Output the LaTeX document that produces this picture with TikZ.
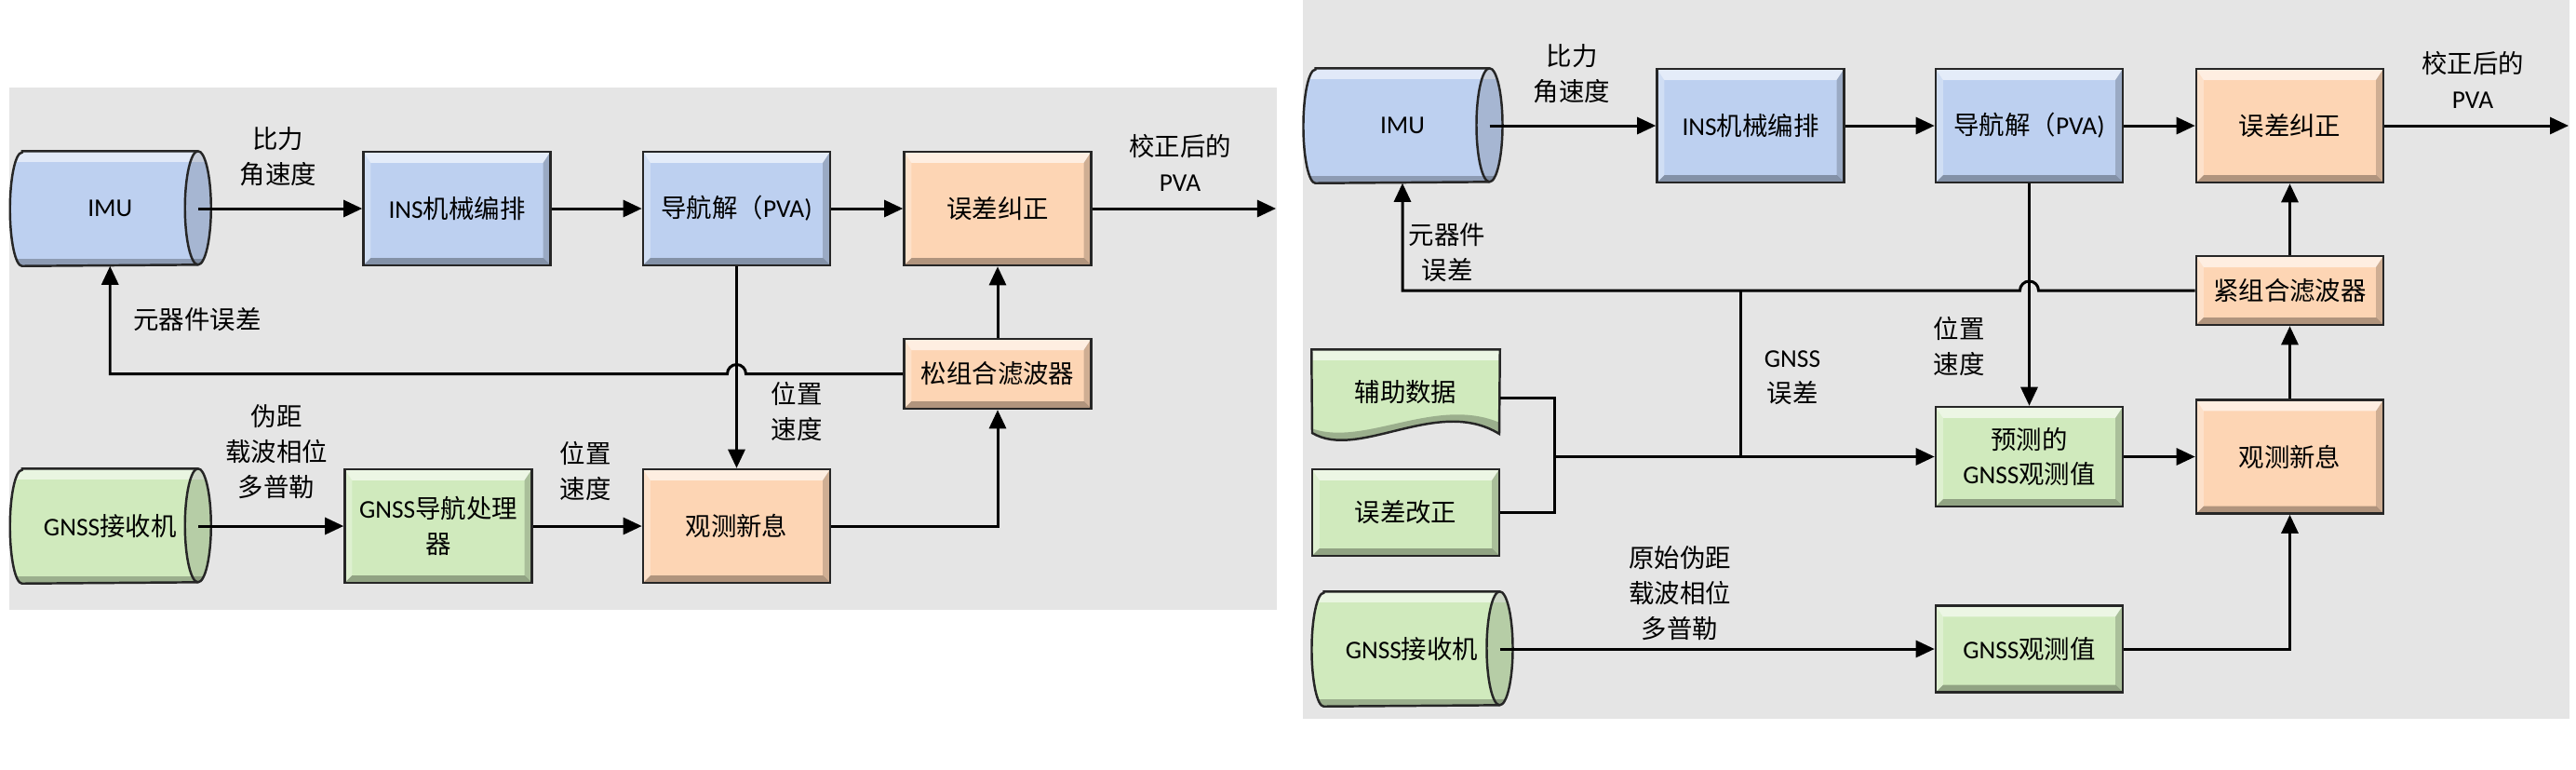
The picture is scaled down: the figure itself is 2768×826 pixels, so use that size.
\documentclass[tikz,border=0pt]{standalone}
\usepackage{fontspec}
\setmainfont{Noto Sans CJK SC}
\newfontfamily\enfont{Carlito}
\usetikzlibrary{arrows.meta,calc}
\definecolor{panelgray}{HTML}{E5E5E5}
\definecolor{insblue}{HTML}{BDD0F0}
\definecolor{gnssgreen}{HTML}{D0EABD}
\definecolor{kfpeach}{HTML}{FDD5B4}
\definecolor{edgegray}{HTML}{262626}
\pgfdeclarelayer{panel}
\pgfdeclarelayer{shapes}
\pgfsetlayers{panel,shapes,main}

\newcommand{\bevelfaces}{%
  \path (path picture bounding box.north west) coordinate (pnw)
        (path picture bounding box.north east) coordinate (pne)
        (path picture bounding box.south west) coordinate (psw)
        (path picture bounding box.south east) coordinate (pse);
  \fill[white,opacity=.6] (pnw) -- (pne) -- ([shift={(-.08cm,-.12cm)}]pne) -- ([shift={(.08cm,-.12cm)}]pnw) -- cycle;
  \fill[white,opacity=.3] (pnw) -- ([shift={(.08cm,-.12cm)}]pnw) -- ([shift={(.08cm,.08cm)}]psw) -- (psw) -- cycle;
  \fill[black,opacity=.3] (psw) -- ([shift={(.08cm,.08cm)}]psw) -- ([shift={(-.08cm,.08cm)}]pse) -- (pse) -- cycle;
  \fill[black,opacity=.18] (pse) -- ([shift={(-.08cm,.08cm)}]pse) -- ([shift={(-.08cm,-.12cm)}]pne) -- (pne) -- cycle;
}
\newcommand{\drawdrum}[2]{%
  \fill[#2] (#1.north west) -- (#1.north east) arc[start angle=90,end angle=-90,x radius=.14cm,y radius=.61cm] -- (#1.south west) arc[start angle=270,end angle=90,x radius=.13cm,y radius=.61cm] -- cycle;
  \begin{scope}
    \clip (#1.north west) -- (#1.north east) arc[start angle=90,end angle=-90,x radius=.14cm,y radius=.61cm] -- (#1.south west) arc[start angle=270,end angle=90,x radius=.13cm,y radius=.61cm] -- cycle;
    \fill[white,opacity=.55] ([xshift=-.2cm]#1.north west) rectangle ([xshift=.2cm,yshift=-.12cm]#1.north east);
    \fill[black,opacity=.25] ([xshift=-.2cm,yshift=.08cm]#1.south west) rectangle ([xshift=.2cm]#1.south east);
  \end{scope}
  \fill[black,opacity=.12] (#1.north east) arc[start angle=90,end angle=-90,x radius=.14cm,y radius=.61cm] arc[start angle=270,end angle=90,x radius=.14cm,y radius=.61cm] -- cycle;
  \draw[edgegray,line width=.7pt] (#1.north west) -- (#1.north east) arc[start angle=90,end angle=-90,x radius=.14cm,y radius=.61cm] -- (#1.south west) arc[start angle=270,end angle=90,x radius=.13cm,y radius=.61cm] -- cycle;
  \draw[edgegray,line width=.7pt] (#1.north east) arc[start angle=90,end angle=270,x radius=.14cm,y radius=.61cm];
}

\tikzset{box base/.style={rectangle,draw=edgegray,line width=0.7pt,inner sep=0pt,align=center,
    minimum width=2.01cm,minimum height=1.22cm,path picture={\bevelfaces}},
  ins node/.style={box base,fill=insblue},
  gnss node/.style={box base,fill=gnssgreen},
  kf node/.style={box base,fill=kfpeach},
  drum node/.style={rectangle,inner sep=0pt,minimum width=1.875cm,minimum height=1.22cm},
  doc node/.style={rectangle,inner sep=0pt,minimum width=2.01cm,minimum height=1.02cm},
  lbl/.style={align=center,inner sep=0pt},
  flow/.style={line width=0.85pt,-{Triangle[length=0.2cm,width=0.18cm]}},
  wire/.style={line width=0.85pt},
}

\begin{document}
\begin{tikzpicture}[x=0.01cm,y=-0.01cm,font=\fontsize{7.8pt}{10.8pt}\selectfont]
		\useasboundingbox (0,0) rectangle (2768,826);
		\begin{pgfonlayer}{panel}
			\fill[panelgray] (10,94) rectangle (1372,655);
			\fill[panelgray] (1400,0) rectangle (2761,772);
		\end{pgfonlayer}
		
		% loose coupling
		\node[drum node] (imu1) at (118.25,224) {{\enfont IMU}};
		\node[ins node] (ins1) at (491,224) {{\enfont INS}机械编排};
		\node[ins node] (nav1) at (791.5,224) {导航解（{\enfont PVA)}};
		\node[kf node] (cor1) at (1072,224) {误差纠正};
		\node[kf node,minimum height=0.75cm] (lc1) at (1072,401.5) {松组合滤波器};
		\node[drum node] (rcv1) at (118.25,565) {{\enfont GNSS}接收机};
		\node[gnss node] (proc1) at (471,565) {{\enfont GNSS}导航处理\\器};
		\node[kf node] (inn1) at (791.5,565) {观测新息};
		\coordinate (out1) at (1371,224);
		
		\node[lbl] (sf1) at (299,168.5) {比力\\角速度};
		\node[lbl] (pva1) at (1268,175) {校正后的\\{\enfont PVA}};
		\node[lbl] (err1) at (212,343) {元器件误差};
		\node[lbl] (pv1) at (856,442) {位置\\速度};
		\node[lbl] (obs1) at (297,485) {伪距\\载波相位\\多普勒};
		\node[lbl] (pv2) at (629,506) {位置\\速度};
		
		\begin{pgfonlayer}{shapes}
			\drawdrum{imu1}{insblue}
			\drawdrum{rcv1}{gnssgreen}
		\end{pgfonlayer}
		
		\path[flow]
			(imu1) edge (ins1)
			(ins1) edge (nav1)
			(nav1) edge (cor1)
			(cor1) edge (out1)
			(lc1) edge (cor1)
			(nav1) edge (inn1)
			(rcv1) edge (proc1)
			(proc1) edge (inn1);
		\draw[flow] (inn1.east) -| (lc1.south);
		\draw[flow] (lc1.west) -- ($(nav1.south |- lc1.west)+(10,0)$) arc[start angle=0,end angle=180,radius=0.1cm] -- (imu1.south |- lc1.west) -- (imu1.south);
		
		% tight coupling
		\node[drum node,minimum width=1.855cm] (imu2) at (1507,135) {{\enfont IMU}};
		\node[ins node] (ins2) at (1881,135) {{\enfont INS}机械编排};
		\node[ins node] (nav2) at (2180.5,135) {导航解（{\enfont PVA)}};
		\node[kf node] (cor2) at (2460.5,135) {误差纠正};
		\node[kf node,minimum height=0.74cm] (tc2) at (2460.5,312) {紧组合滤波器};
		\node[doc node] (aux2) at (1510.5,427) {\raisebox{.14cm}{辅助数据}};
		\node[gnss node,minimum height=0.93cm] (fix2) at (1510.5,550.5) {误差改正};
		\node[drum node] (rcv2) at (1517,697) {{\enfont GNSS}接收机};
		\node[gnss node,minimum height=1.07cm] (pred2) at (2180.5,490.5) {预测的\\{\enfont GNSS}观测值};
		\node[kf node] (inn2) at (2460.5,490.5) {观测新息};
		\node[gnss node,minimum height=0.93cm] (raw2) at (2180.5,697) {{\enfont GNSS}观测值};
		\coordinate (out2) at (2760,135);
		\coordinate (join2) at (1670,490.5);
		\coordinate (tap2) at (1870,312);
		
		\node[lbl] (sf2) at (1689,79) {比力\\角速度};
		\node[lbl] (pva2) at (2657,85.5) {校正后的\\{\enfont PVA}};
		\node[lbl] (err2) at (1555,271.5) {元器件\\误差};
		\node[lbl] (pv3) at (2105,371.5) {位置\\速度};
		\node[lbl] (ge2) at (1926,405.5) {{\enfont GNSS}\\误差};
		\node[lbl] (obs2) at (1805,637) {原始伪距\\载波相位\\多普勒};
		
		\begin{pgfonlayer}{shapes}
			\drawdrum{imu2}{insblue}
			\drawdrum{rcv2}{gnssgreen}
			\fill[gnssgreen] (aux2.north west) -- (aux2.north east) -- (1611,466) .. controls (1545,425) and (1460,495) .. (1410,465) -- cycle;
			\begin{scope}
				\clip (aux2.north west) -- (aux2.north east) -- (1611,466) .. controls (1545,425) and (1460,495) .. (1410,465) -- cycle;
				\fill[white,opacity=.6] (aux2.north west) rectangle ([yshift=-.12cm]aux2.north east);
				\fill[black,opacity=.25] (1400,456) .. controls (1460,488) and (1545,418) .. (1620,458) -- (1620,490) -- (1400,490) -- cycle;
			\end{scope}
			\draw[edgegray,line width=.7pt] (aux2.north west) -- (aux2.north east) -- (1611,466) .. controls (1545,425) and (1460,495) .. (1410,465) -- cycle;
		\end{pgfonlayer}
		
		\path[flow]
			(imu2) edge (ins2)
			(ins2) edge (nav2)
			(nav2) edge (cor2)
			(cor2) edge (out2)
			(tc2) edge (cor2)
			(nav2) edge (pred2)
			(pred2) edge (inn2)
			(inn2) edge (tc2)
			(rcv2) edge (raw2)
			(join2) edge (pred2);
		\draw[flow] (raw2.east) -| (inn2.south);
		\draw[flow] (tc2.west) -- ($(nav2.south |- tc2.west)+(10,0)$) arc[start angle=0,end angle=180,radius=0.1cm] -- (imu2.south |- tc2.west) -- (imu2.south);
		\draw[wire] (aux2.east) -| (join2) |- (fix2.east);
		\draw[wire] (tap2) -- (tap2 |- join2);
	\end{tikzpicture}
\end{document}
